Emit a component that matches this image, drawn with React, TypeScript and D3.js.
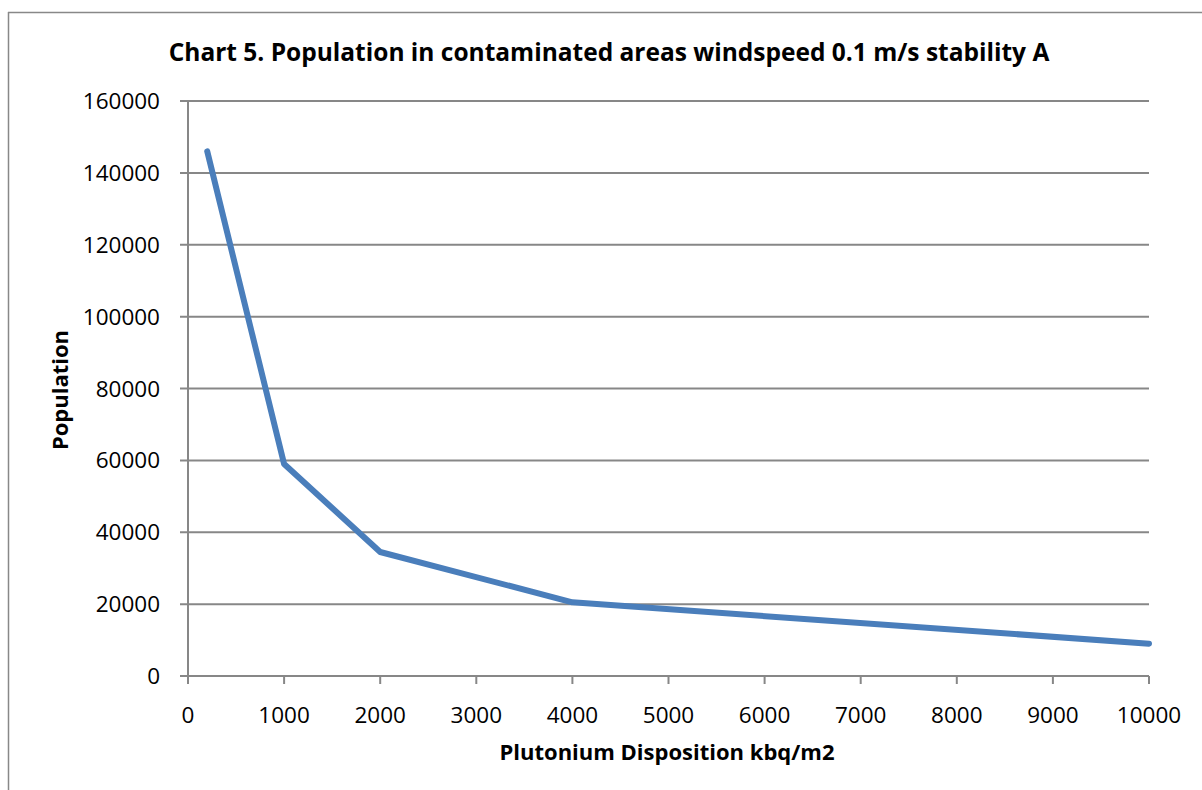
import React from "react";
import * as d3 from "d3";

const deposition = [200, 1000, 2000, 4000, 10000];
const population = [146000, 59000, 34500, 20500, 9000];
const xTicks = [0, 1000, 2000, 3000, 4000, 5000, 6000, 7000, 8000, 9000, 10000];
const yTicks = [0, 20000, 40000, 60000, 80000, 100000, 120000, 140000, 160000];

const W = 1202;
const H = 790;
const FONT = "'Open Sans', 'DejaVu Sans', sans-serif";

export default function App() {
  const x = d3.scaleLinear().domain([0, 10000]).range([188, 1149]);
  const y = d3.scaleLinear().domain([0, 160000]).range([676, 101]);
  const pts = deposition.map((d, i) => [d, population[i]] as [number, number]);
  const line = d3
    .line<[number, number]>()
    .x((d) => x(d[0]))
    .y((d) => y(d[1]));
  const grid = "#878787";
  return (
    <svg
      width={W}
      height={H}
      style={{ position: "absolute", left: 0, top: 0, background: "#fff" }}
      fontFamily={FONT}
    >
      <rect x={0} y={0} width={W} height={H} fill="#fff" />
      {/* outer frame */}
      <line x1={8.5} y1={12} x2={8.5} y2={H} stroke="#888" strokeWidth={1.5} />
      <line x1={8} y1={12.5} x2={W} y2={12.5} stroke="#888" strokeWidth={1.5} />

      <text x={609} y={61} textAnchor="middle" fontSize={24.5} fontWeight="bold" fill="#000">
        Chart 5. Population in contaminated areas windspeed 0.1 m/s stability A
      </text>

      {/* gridlines and y ticks */}
      {yTicks.map((t) => (
        <g key={"y" + t}>
          <line x1={180} x2={1149} y1={y(t)} y2={y(t)} stroke={grid} strokeWidth={2} />
          <text
            x={160}
            y={y(t)}
            dy="0.36em"
            textAnchor="end"
            fontSize={22.5}
            fill="#000"
          >
            {t}
          </text>
        </g>
      ))}
      {/* y axis */}
      <line x1={188} x2={188} y1={101} y2={676} stroke={grid} strokeWidth={2} />
      {/* x ticks */}
      {xTicks.map((t) => (
        <g key={"x" + t}>
          <line x1={x(t)} x2={x(t)} y1={676} y2={684} stroke={grid} strokeWidth={2} />
          <text x={x(t)} y={723} textAnchor="middle" fontSize={22.5} fill="#000">
            {t}
          </text>
        </g>
      ))}

      <path
        d={line(pts) || ""}
        fill="none"
        stroke="#4a7ebb"
        strokeWidth={6}
        strokeLinejoin="round"
        strokeLinecap="round"
      />

      <text x={667} y={760} textAnchor="middle" fontSize={22} fontWeight="bold" fill="#000">
        Plutonium Disposition kbq/m2
      </text>
      <text
        transform="translate(68,390) rotate(-90)"
        textAnchor="middle"
        fontSize={22}
        fontWeight="bold"
        fill="#000"
      >
        Population
      </text>
    </svg>
  );
}
